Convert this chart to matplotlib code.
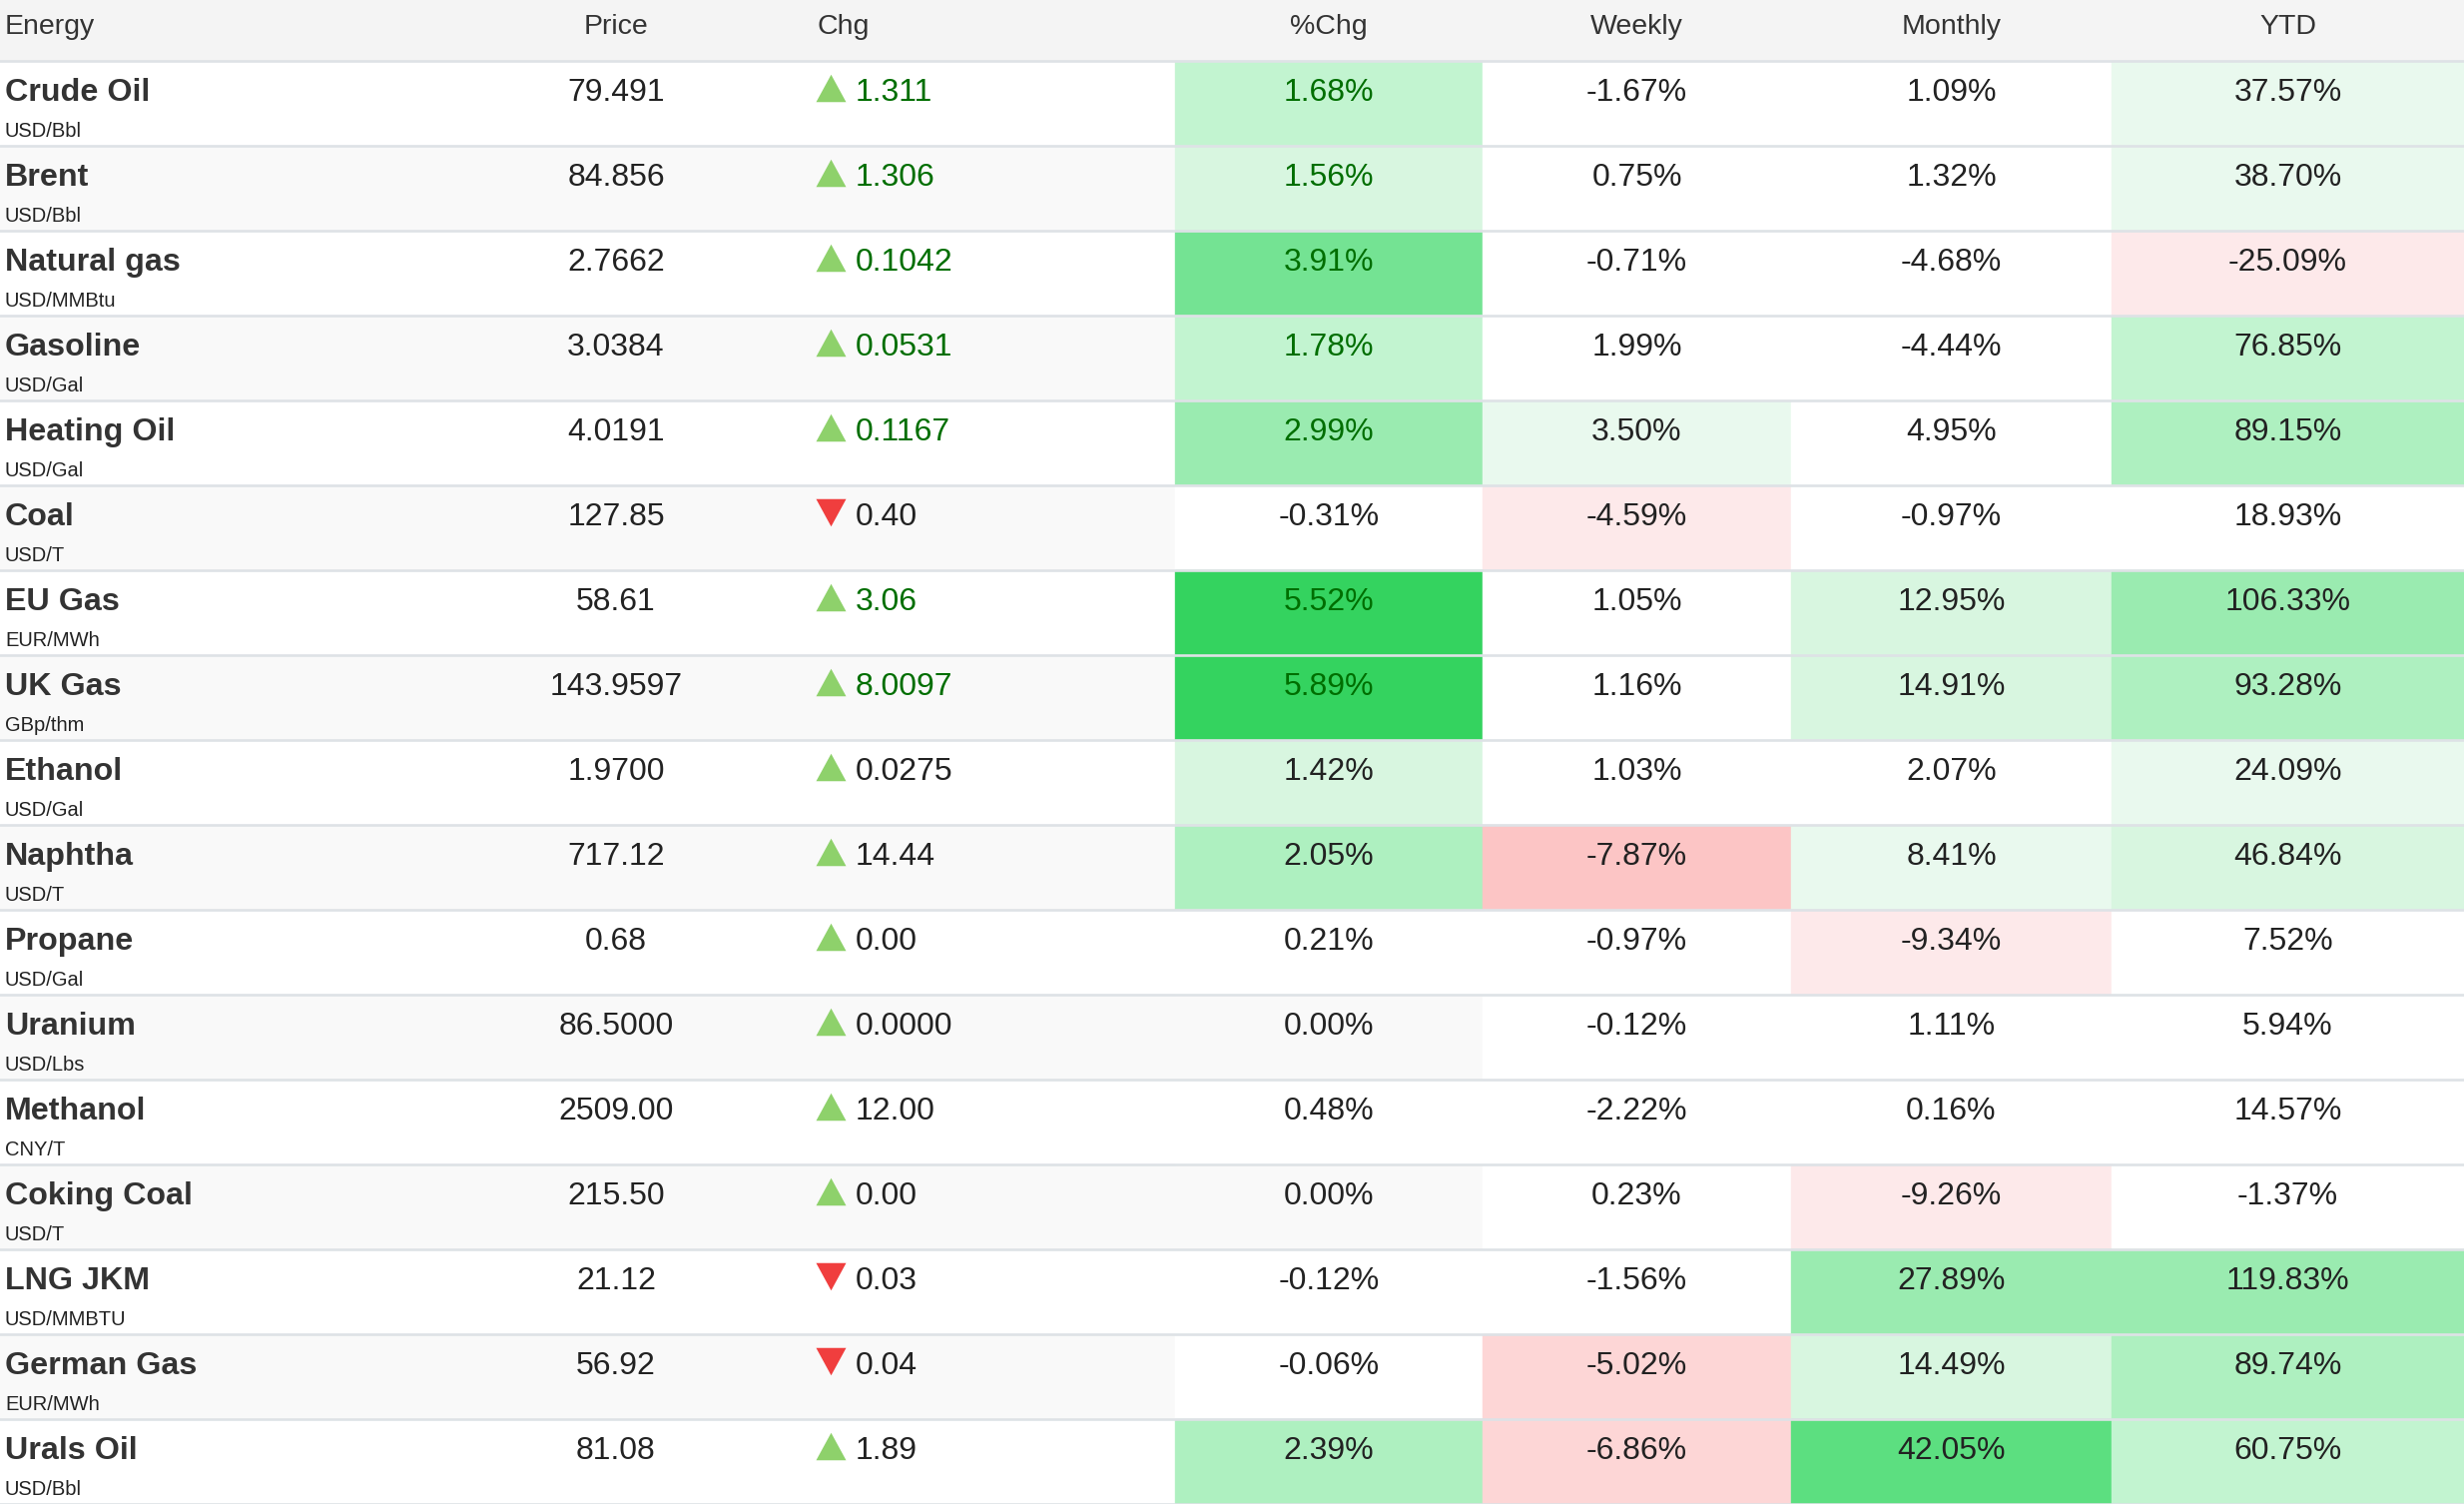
import matplotlib
matplotlib.use('Agg')
import matplotlib.pyplot as plt
from matplotlib.patches import Rectangle
from matplotlib.path import Path
from matplotlib.colors import ListedColormap, BoundaryNorm

# table content
names = ['Crude Oil', 'Brent', 'Natural gas', 'Gasoline', 'Heating Oil', 'Coal', 'EU Gas',
         'UK Gas', 'Ethanol', 'Naphtha', 'Propane', 'Uranium', 'Methanol', 'Coking Coal',
         'LNG JKM', 'German Gas', 'Urals Oil']
units = ['USD/Bbl', 'USD/Bbl', 'USD/MMBtu', 'USD/Gal', 'USD/Gal', 'USD/T', 'EUR/MWh',
         'GBp/thm', 'USD/Gal', 'USD/T', 'USD/Gal', 'USD/Lbs', 'CNY/T', 'USD/T',
         'USD/MMBTU', 'EUR/MWh', 'USD/Bbl']
prices = ['79.491', '84.856', '2.7662', '3.0384', '4.0191', '127.85', '58.61', '143.9597',
          '1.9700', '717.12', '0.68', '86.5000', '2509.00', '215.50', '21.12', '56.92', '81.08']
changes = ['1.311', '1.306', '0.1042', '0.0531', '0.1167', '-0.40', '3.06', '8.0097',
           '0.0275', '14.44', '0.00', '0.0000', '12.00', '0.00', '-0.03', '-0.04', '1.89']
pct_chg = [1.68, 1.56, 3.91, 1.78, 2.99, -0.31, 5.52, 5.89, 1.42, 2.05, 0.21, 0.00, 0.48,
           0.00, -0.12, -0.06, 2.39]
weekly = [-1.67, 0.75, -0.71, 1.99, 3.50, -4.59, 1.05, 1.16, 1.03, -7.87, -0.97, -0.12,
          -2.22, 0.23, -1.56, -5.02, -6.86]
monthly = [1.09, 1.32, -4.68, -4.44, 4.95, -0.97, 12.95, 14.91, 2.07, 8.41, -9.34, 1.11,
           0.16, -9.26, 27.89, 14.49, 42.05]
ytd = [37.57, 38.70, -25.09, 76.85, 89.15, 18.93, 106.33, 93.28, 24.09, 46.84, 7.52, 5.94,
       14.57, -1.37, 119.83, 89.74, 60.75]
# rows whose gains are shown in green
fresh = [True, True, True, True, True, True, True, True, False, False, False, False, False,
         False, False, False, False]
headers = ['Energy', 'Price', 'Chg', '%Chg', 'Weekly', 'Monthly', 'YTD']

# shading steps
R3, R2, R1, W = '#fcc5c5', '#fdd6d6', '#fde9ea', '#ffffff'
G1, G2, G3, G4, G5, G6, G7, G8 = ('#e9f9ee', '#d8f6e0', '#c2f4d0', '#aef0c0', '#9aebb0',
                                  '#74e393', '#5cdf80', '#34d35f')
shade = {
    'pct': ([-10, -3, -2, -1, 1, 1.6, 2, 2.5, 3.5, 4.5, 10], [R3, R2, R1, W, G2, G3, G4, G5, G6, G8]),
    'weekly': ([-20, -7, -5, -4, 2.5, 5, 20], [R3, R2, R1, W, G1, G2]),
    'monthly': ([-50, -20, -12, -8, 6, 10, 20, 35, 60], [R3, R2, R1, W, G1, G2, G5, G7]),
    'ytd': ([-100, -50, -35, -20, 20, 45, 55, 85, 100, 150], [R3, R2, R1, W, G1, G2, G3, G4, G5]),
}

W_PX, H_PX = 2468, 1506
HEADER_H = 61
ROW_H = (H_PX - HEADER_H) / len(names)
PCT_EDGES = [1177, 1485, 1794, 2115, 2468]
PRICE_X = 617
CHG_X = 818

FONT = 'Liberation Sans'
DARK = '#222222'
GREEN_TXT = '#006e00'

tri_up = Path([(-0.6, -0.55), (0.6, -0.55), (0, 0.55), (-0.6, -0.55)])
tri_down = Path([(-0.6, 0.55), (0.6, 0.55), (0, -0.55), (-0.6, 0.55)])

fig = plt.figure(figsize=(W_PX / 100, H_PX / 100), dpi=100)
ax = fig.add_axes([0, 0, 1, 1])
ax.set_xlim(0, W_PX)
ax.set_ylim(H_PX, 0)
ax.axis('off')

# header
ax.add_patch(Rectangle((0, 0), W_PX, HEADER_H, color='#f4f4f4', zorder=0))
hy = 34
ax.text(5, hy, headers[0], ha='left', va='baseline', fontsize=20.5, family=FONT, color='#333333')
ax.text(PRICE_X, hy, headers[1], ha='center', va='baseline', fontsize=20.5, family=FONT, color='#333333')
ax.text(CHG_X, hy, headers[2], ha='left', va='baseline', fontsize=20.5, family=FONT, color='#333333')
for k, h in enumerate(headers[3:]):
    cx = (PCT_EDGES[k] + PCT_EDGES[k + 1]) / 2
    ax.text(cx, hy, h, ha='center', va='baseline', fontsize=20.5, family=FONT, color='#333333')

cols = [('pct', pct_chg), ('weekly', weekly), ('monthly', monthly), ('ytd', ytd)]
maps = {}
for key, (bounds, colors) in shade.items():
    maps[key] = (ListedColormap(colors), BoundaryNorm(bounds, len(colors)))

for i in range(len(names)):
    top = HEADER_H + i * ROW_H
    bg = '#ffffff' if i % 2 == 0 else '#f9f9f9'
    ax.add_patch(Rectangle((0, top), W_PX, ROW_H, color=bg, zorder=0))
    base = top + 40

    ax.text(5, base, names[i], ha='left', va='baseline', fontsize=23.2, family=FONT,
            weight='bold', color='#333333', zorder=3)
    ax.text(5, top + 76, units[i], ha='left', va='baseline', fontsize=14.5, family=FONT,
            color=DARK, zorder=3)
    ax.text(PRICE_X, base, prices[i], ha='center', va='baseline', fontsize=23, family=FONT,
            color=DARK, zorder=3)

    chg = float(changes[i])
    up = chg >= 0
    ax.scatter([CHG_X + 14], [base - 13.5], marker=tri_up if up else tri_down, s=21.6 ** 2,
               color='#8ed16b' if up else '#f03e3e', linewidths=0, zorder=3)
    green = fresh[i] and chg > 0
    ax.text(CHG_X + 39, base, changes[i].lstrip('-'), ha='left', va='baseline', fontsize=23,
            family=FONT, color=GREEN_TXT if green else DARK, zorder=3)

    for k, (key, vals) in enumerate(cols):
        v = vals[i]
        x0, x1 = PCT_EDGES[k], PCT_EDGES[k + 1]
        cmap, norm = maps[key]
        if v != 0:
            ax.add_patch(Rectangle((x0, top), x1 - x0, ROW_H, color=cmap(norm(v)), zorder=1))
        tc = GREEN_TXT if (key == 'pct' and green) else DARK
        ax.text((x0 + x1) / 2, base, f'{v:.2f}%', ha='center', va='baseline', fontsize=23,
                family=FONT, color=tc, zorder=3)

# row separators
for i in range(len(names) + 1):
    ax.axhline(HEADER_H + i * ROW_H, color='#dee2e6', lw=1.9, zorder=2)

plt.savefig('out.png', dpi=100)
